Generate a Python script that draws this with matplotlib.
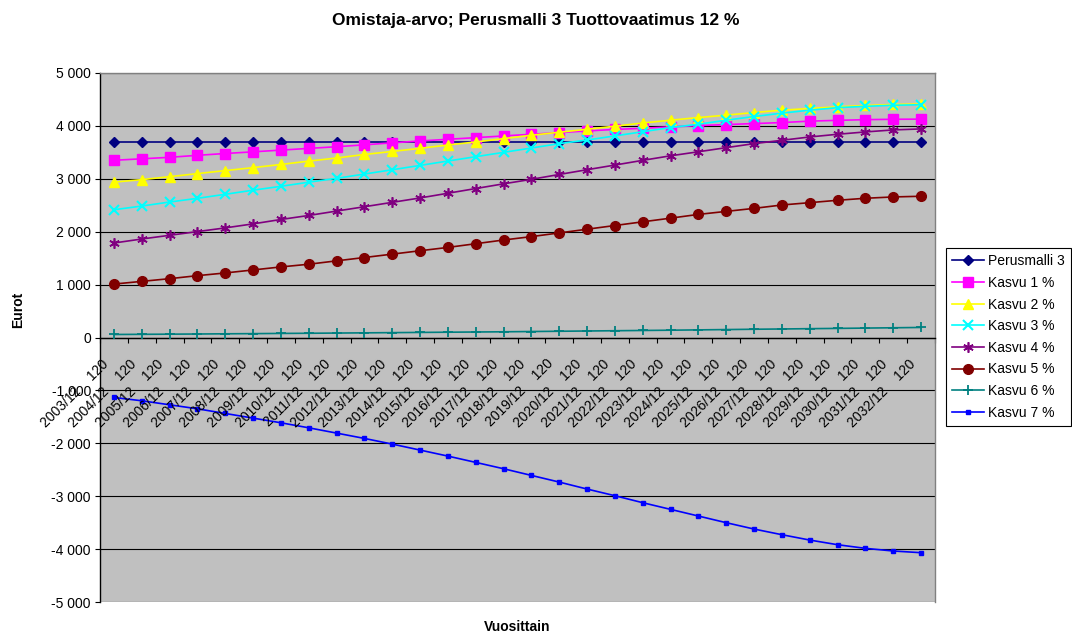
import matplotlib
matplotlib.use("Agg")
import matplotlib.pyplot as plt
from matplotlib.ticker import FixedLocator, MultipleLocator, FuncFormatter, NullFormatter
from matplotlib.transforms import ScaledTranslation

plt.rcParams["font.family"] = ["Liberation Sans", "DejaVu Sans"]

# Category axis: year-end periods
periods = ["2003/12", "2004/12", "2005/12", "2006/12", "2007/12", "2008/12",
           "2009/12", "2010/12", "2011/12", "2012/12", "2013/12", "2014/12",
           "2015/12", "2016/12", "2017/12", "2018/12", "2019/12", "2020/12",
           "2021/12", "2022/12", "2023/12", "2024/12", "2025/12", "2026/12",
           "2027/12", "2028/12", "2029/12", "2030/12", "2031/12", "2032/12"]
period_suffix = "120"

# Owner value (EUR) per scenario
perusmalli_3 = [3700] * 30
kasvu_1 = [3350, 3378, 3406, 3444, 3478, 3510, 3542, 3575, 3606, 3642,
           3680, 3715, 3747, 3778, 3810, 3842, 3873, 3905, 3933, 3955,
           3981, 4006, 4025, 4044, 4063, 4090, 4105, 4118, 4125, 4128]
kasvu_2 = [2937, 2984, 3040, 3098, 3155, 3211, 3271, 3334, 3393, 3460,
           3517, 3576, 3639, 3696, 3759, 3823, 3880, 3937, 3994, 4055,
           4108, 4158, 4203, 4253, 4297, 4329, 4361, 4386, 4405, 4415]
kasvu_3 = [2415, 2485, 2561, 2631, 2707, 2785, 2858, 2936, 3009, 3090,
           3171, 3253, 3336, 3418, 3500, 3582, 3665, 3734, 3810, 3890,
           3968, 4032, 4108, 4177, 4241, 4297, 4345, 4370, 4390, 4400]
kasvu_4 = [1786, 1862, 1932, 2002, 2072, 2148, 2231, 2307, 2390, 2472,
           2555, 2638, 2727, 2816, 2905, 2990, 3082, 3172, 3260, 3349,
           3435, 3511, 3589, 3665, 3728, 3791, 3842, 3886, 3924, 3943]
kasvu_5 = [1010, 1061, 1112, 1169, 1220, 1277, 1334, 1385, 1449, 1512,
           1576, 1640, 1703, 1773, 1843, 1907, 1977, 2047, 2117, 2187,
           2256, 2327, 2384, 2441, 2505, 2549, 2594, 2632, 2657, 2670]
kasvu_6 = [57, 60, 63, 66, 70, 73, 77, 80, 84, 88,
           92, 96, 100, 104, 108, 113, 118, 123, 128, 133,
           138, 144, 150, 156, 161, 167, 172, 178, 184, 190]
kasvu_7 = [-1134, -1196, -1272, -1348, -1436, -1524, -1612, -1707, -1807, -1908,
           -2015, -2128, -2242, -2361, -2481, -2607, -2733, -2865, -2991, -3123,
           -3249, -3375, -3501, -3621, -3728, -3829, -3917, -3986, -4036, -4068]

series_labels = ["Perusmalli 3", "Kasvu 1 %", "Kasvu 2 %", "Kasvu 3 %",
                 "Kasvu 4 %", "Kasvu 5 %", "Kasvu 6 %", "Kasvu 7 %"]
series_values = [perusmalli_3, kasvu_1, kasvu_2, kasvu_3,
                 kasvu_4, kasvu_5, kasvu_6, kasvu_7]
series_styles = [
    dict(color="#000080", marker="D", ms=5.5, mew=1.0),
    dict(color="#FF00FF", marker="s", ms=6.5, mew=1.0),
    dict(color="#FFFF00", marker="^", ms=7.5, mew=1.0),
    dict(color="#00FFFF", marker="x", ms=6.5, mew=1.5),
    dict(color="#800080", marker=(6, 2, 0), ms=7.5, mew=1.2),
    dict(color="#800000", marker="o", ms=7, mew=1.0),
    dict(color="#008080", marker="+", ms=7.5, mew=1.3),
    dict(color="#0000FF", marker="s", ms=2.5, mew=1.0),
]

fig = plt.figure(figsize=(10.72, 6.35), dpi=100)
ax = fig.add_axes([100 / 1072, 1 - 602 / 635, 835 / 1072, 529 / 635])
ax.set_facecolor("#C0C0C0")

x = list(range(len(periods)))
for label, values, style in zip(series_labels, series_values, series_styles):
    ax.plot(x, values, label=label, lw=1.2, color=style["color"],
            marker=style["marker"], markersize=style["ms"],
            markeredgewidth=style["mew"], markerfacecolor=style["color"],
            markeredgecolor=style["color"], clip_on=False, zorder=3)

ax.set_xlim(-0.5, len(periods) - 0.5)
ax.set_ylim(-5000, 5000)

# Value axis
ax.yaxis.set_major_locator(MultipleLocator(1000))
ax.yaxis.set_major_formatter(
    FuncFormatter(lambda v, pos: f"{int(round(v)):,}".replace(",", " ")))
ax.grid(axis="y", color="black", lw=0.8, zorder=1)
ax.set_axisbelow(True)
ax.tick_params(axis="y", direction="out", length=3.5, width=0.8,
               labelsize=10, pad=3)

# Category axis crosses at zero; tick marks between categories
ax.spines["bottom"].set_position(("data", 0))
ax.spines["bottom"].set_color("black")
ax.spines["bottom"].set_linewidth(1.0)
ax.spines["left"].set_color("black")
ax.spines["left"].set_linewidth(1.0)
for side in ("top", "right"):
    ax.spines[side].set_color("#808080")
    ax.spines[side].set_linewidth(1.0)
ax.xaxis.set_major_locator(FixedLocator([i - 0.5 for i in range(len(periods) + 1)]))
ax.xaxis.set_major_formatter(NullFormatter())
ax.tick_params(axis="x", direction="out", length=3.5, width=0.8)

label_offset = ScaledTranslation(-5 / 100, -27 / 100, fig.dpi_scale_trans)
for i, p in enumerate(periods):
    ax.text(i, 0, f"{p}    {period_suffix}", transform=ax.transData + label_offset,
            rotation=45, rotation_mode="anchor", ha="right", va="baseline",
            fontsize=10, clip_on=False, zorder=4)

leg = fig.legend(loc="upper left", bbox_to_anchor=(946 / 1072, 1 - 248 / 635),
                 frameon=True, fancybox=False, edgecolor="black", framealpha=1,
                 fontsize=10, handlelength=2.3, handletextpad=0.25,
                 labelspacing=0.55, borderpad=0.45, borderaxespad=0)
leg.get_frame().set_linewidth(0.8)

fig.text(0.5, 1 - 20 / 635, "Omistaja-arvo; Perusmalli 3 Tuottovaatimus 12 %",
         ha="center", va="center", fontsize=12.5, fontweight="bold")
fig.text(18 / 1072, 1 - 310 / 635, "Eurot", rotation=90, ha="center",
         va="center", fontsize=10, fontweight="bold")
fig.text(517 / 1072, 1 - 627 / 635, "Vuosittain", ha="center", va="center",
         fontsize=10, fontweight="bold")

fig.savefig("out.png", dpi=100, facecolor="white")
